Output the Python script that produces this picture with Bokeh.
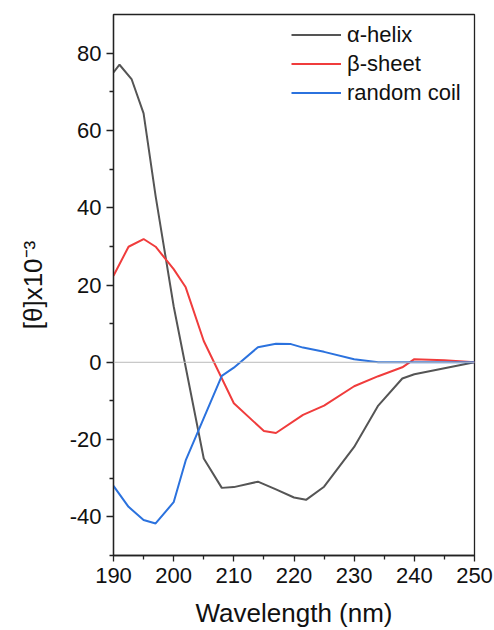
from bokeh.plotting import figure
from bokeh.models import Span, Legend, LegendItem, FixedTicker, Range1d
from bokeh.embed import file_html
from bokeh.resources import INLINE

# alpha-helix
helix_wl = [190, 191, 193, 195, 197, 200, 205, 208, 210, 214, 217, 220, 222, 225, 230, 234, 238, 240, 250]
helix_val = [75, 77, 73.3, 64.4, 43, 14.5, -24.9, -32.5, -32.3, -30.9, -32.9, -35.0, -35.6, -32.2, -21.9, -11.2, -4.2, -3.1, 0]
# beta-sheet
sheet_wl = [190, 192.5, 195, 197, 200, 202, 205, 210, 215, 217, 221.5, 225, 230, 234, 238, 240, 245, 250]
sheet_val = [22.4, 29.9, 31.9, 29.9, 24.1, 19.4, 5.5, -10.6, -17.8, -18.3, -13.6, -11.2, -6.2, -3.6, -1.3, 0.8, 0.5, 0]
# random coil
coil_wl = [190, 192.5, 195, 197, 200, 202, 208, 210, 214, 217, 219.5, 221.5, 225, 230, 234, 240, 250]
coil_val = [-32.0, -37.4, -40.8, -41.7, -36.2, -25.4, -3.5, -1.4, 3.9, 4.8, 4.7, 3.8, 2.7, 0.8, 0.0, 0.0, 0.0]

labels = ["\u03b1-helix", "\u03b2-sheet", "random coil"]
x_ticks = [190, 200, 210, 220, 230, 240, 250]
y_ticks = [-40, -20, 0, 20, 40, 60, 80]
y_tick_text = ["-40", "-20", "0", "20", "40", "60", "80"]

FONT = "Liberation Sans"

p = figure(width=494, height=630, output_backend="svg", toolbar_location=None,
           x_range=Range1d(190, 250), y_range=Range1d(-50, 90),
           min_border_left=113, min_border_right=20, min_border_top=14, min_border_bottom=73)
p.background_fill_color = "white"
p.border_fill_color = "white"
p.outline_line_color = "#222222"
p.outline_line_width = 1.3
p.grid.visible = False

colors = ["#555555", "#f03c3c", "#2b72de"]

zero = Span(location=0, dimension="width", line_color="#bbbbbb", line_width=1)
p.add_layout(zero)

r1 = p.line(helix_wl, helix_val, line_color=colors[0], line_width=2)
r2 = p.line(sheet_wl, sheet_val, line_color=colors[1], line_width=2)
r3 = p.line(coil_wl, coil_val, line_color=colors[2], line_width=2)

for ax in (p.xaxis[0], p.yaxis[0]):
    ax.axis_line_color = "#222222"
    ax.axis_line_width = 1.3
    ax.major_tick_line_color = "#222222"
    ax.minor_tick_line_color = "#222222"
    ax.major_tick_line_width = 1.3
    ax.minor_tick_line_width = 1.3
    ax.major_tick_in = 0
    ax.minor_tick_in = 0
    ax.major_label_text_font = FONT
    ax.major_label_text_font_size = "22px"
    ax.major_label_text_color = "#111111"
    ax.axis_label_text_font = FONT
    ax.axis_label_text_font_size = "26px"
    ax.axis_label_text_font_style = "normal"
    ax.axis_label_text_color = "#111111"

p.xaxis[0].ticker = FixedTicker(ticks=x_ticks, minor_ticks=[195, 205, 215, 225, 235, 245])
p.yaxis[0].ticker = FixedTicker(ticks=y_ticks, minor_ticks=[-50, -30, -10, 10, 30, 50, 70])
p.yaxis[0].major_label_overrides = {t: s for t, s in zip(y_ticks, y_tick_text)}
p.xaxis[0].major_tick_out = 6
p.xaxis[0].minor_tick_out = 4
p.yaxis[0].major_tick_out = 7
p.yaxis[0].minor_tick_out = 4
p.xaxis[0].major_label_standoff = 6
p.yaxis[0].major_label_standoff = 5
p.xaxis[0].axis_label = "Wavelength (nm)"
p.yaxis[0].axis_label = "[\u03b8]x10\u207b\u00b3"
p.xaxis[0].axis_label_standoff = 12
p.yaxis[0].axis_label_standoff = 19

legend = Legend(items=[LegendItem(label=labels[0], renderers=[r1]),
                       LegendItem(label=labels[1], renderers=[r2]),
                       LegendItem(label=labels[2], renderers=[r3])],
                location=(178, 448))
legend.border_line_color = None
legend.background_fill_alpha = 0
legend.label_text_font = FONT
legend.label_text_font_size = "22px"
legend.label_text_color = "#111111"
legend.glyph_width = 50
legend.glyph_height = 29
legend.label_height = 29
legend.label_standoff = 6
legend.spacing = 0
legend.padding = 0
legend.margin = 0
p.add_layout(legend)

open("out.html", "w").write(file_html(p, INLINE))
